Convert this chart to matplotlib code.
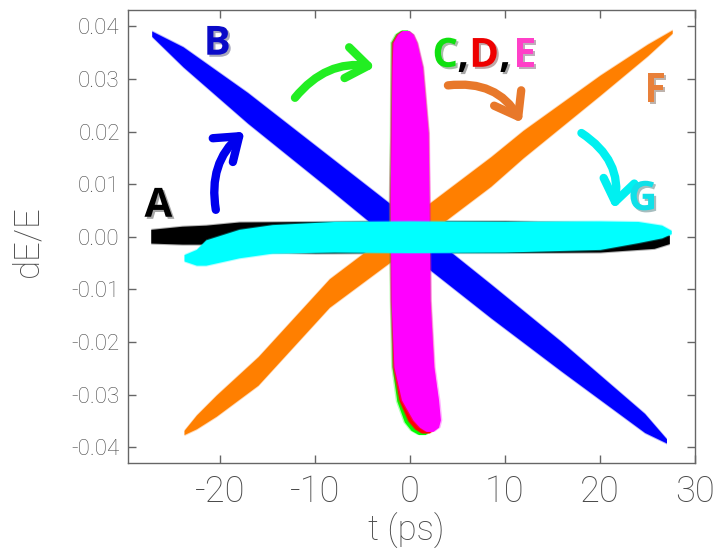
import numpy as np
import matplotlib
matplotlib.use('Agg')
import matplotlib.pyplot as plt
from matplotlib.patches import FancyArrowPatch
import matplotlib.patheffects as pe

# ---------------- data ----------------
# Band A (black): t (ps), centre dE/E, half thickness
A_t    = [-27.3, -24.0, -21.5, -18.0, -10.0, 0.0, 10.0, 20.0, 25.7, 27.3]
A_c    = [0.0001, 0.0003, 0.0004, 0.0000, -0.0001, 0.0, 0.0, -0.0001, -0.0006, -0.0005]
A_h    = [0.0013, 0.0017, 0.0018, 0.0028, 0.0030, 0.0030, 0.0030, 0.0028, 0.0016, 0.0008]

# Band B (blue)
B_t    = [-27.2, -23.9, -17.1, -8.5, -3.1, 0.0, 8.5, 15.9, 24.7, 27.0]
B_c    = [0.0386, 0.0342, 0.0245, 0.0122, 0.0044, 0.0, -0.0122, -0.0227, -0.0354, -0.0388]
B_h    = [0.0005, 0.0019, 0.0029, 0.0031, 0.0033, 0.0033, 0.0032, 0.0028, 0.0018, 0.0004]

# Band F (orange)
F_t    = [-23.8, -22.5, -20.4, -16.0, -8.5, 0.0, 8.5, 11.9, 20.0, 25.0, 27.6]
F_c    = [-0.0372, -0.0352, -0.0321, -0.0255, -0.0107, 0.0008, 0.0124, 0.0176, 0.0288, 0.0355, 0.0390]
F_h    = [0.0004, 0.0013, 0.0020, 0.0027, 0.0027, 0.0028, 0.0028, 0.0026, 0.0019, 0.0011, 0.0003]

# Bands C (green), D (red), E (magenta): vertical, given as dE levels with left/right t
C_dE   = [0.0393, 0.0386, 0.0370, 0.0323, 0.0198, 0.0070, -0.0120, -0.0247, -0.0312, -0.0352, -0.0368, -0.0376]
C_left = [-0.9, -1.5, -2.0, -2.0, -2.05, -2.15, -2.05, -1.9, -1.4, -0.6, 0.1, 0.9]
C_rght = [-0.3, 0.2, 0.6, 1.2, 1.8, 1.9, 2.0, 2.3, 2.6, 2.5, 2.1, 1.6]

D_dE   = [0.0392, 0.0385, 0.0369, 0.0323, 0.0198, 0.0070, -0.0120, -0.0247, -0.0311, -0.0350, -0.0365, -0.0373]
D_left = [-0.85, -1.4, -1.9, -1.95, -2.0, -2.1, -2.0, -1.8, -1.15, -0.2, 0.5, 1.2]
D_rght = [-0.25, 0.25, 0.65, 1.25, 1.85, 1.95, 2.05, 2.4, 2.8, 2.9, 2.6, 2.0]

E_dE   = [0.0392, 0.0385, 0.0369, 0.0323, 0.0198, 0.0070, -0.0120, -0.0247, -0.0310, -0.0348, -0.0362, -0.0370]
E_left = [-0.8, -1.3, -1.8, -1.9, -2.0, -2.1, -2.0, -1.7, -0.9, 0.3, 1.0, 1.7]
E_rght = [-0.2, 0.3, 0.7, 1.3, 1.9, 2.0, 2.1, 2.5, 3.0, 3.2, 3.0, 2.4]

# Band G (cyan)
G_t    = [-23.8, -22.5, -21.5, -18.0, -14.5, -8.0, 0.0, 10.0, 20.0, 24.0, 26.5, 27.5]
G_c    = [-0.0040, -0.0039, -0.0030, -0.0013, -0.0004, 0.0, 0.0, 0.0, 0.0003, 0.0009, 0.0010, 0.0009]
G_h    = [0.0006, 0.0015, 0.0024, 0.0027, 0.0027, 0.0029, 0.0030, 0.0029, 0.0027, 0.0020, 0.0012, 0.0003]

x_ticks = [-20, -10, 0, 10, 20, 30]
x_tick_labels = ['-20', '-10', '0', '10', '20', '30']
y_ticks = [0.04, 0.03, 0.02, 0.01, 0.0, -0.01, -0.02, -0.03, -0.04]
y_tick_labels = ['0.04', '0.03', '0.02', '0.01', '0.00', '-0.01', '-0.02', '-0.03', '-0.04']

# ---------------- figure ----------------
fig = plt.figure(figsize=(7.21, 5.55), dpi=100)
ax = fig.add_axes([0.1775, 0.1658, 0.7864, 0.8162])
ax.set_xlim(-29.7, 30.0)
ax.set_ylim(-0.0430, 0.0431)


def hband(t, c, h, color):
    t = np.asarray(t); c = np.asarray(c); h = np.asarray(h)
    ax.fill_between(t, c - h - 0.0002, c + h + 0.0002, color=color, alpha=0.3, lw=0)
    ax.fill_between(t, c - h, c + h, color=color, lw=0)


def vband(y, left, right, color):
    y = np.asarray(y); left = np.asarray(left); right = np.asarray(right)
    ax.fill_betweenx(y, left - 0.15, right + 0.15, color=color, alpha=0.3, lw=0)
    ax.fill_betweenx(y, left, right, color=color, lw=0)


hband(A_t, A_c, A_h, 'black')
hband(B_t, B_c, B_h, '#0000FF')
hband(F_t, F_c, F_h, '#FF7F00')
vband(C_dE, C_left, C_rght, '#00FF00')
vband(D_dE, D_left, D_rght, '#FF0000')
vband(E_dE, E_left, E_rght, '#FF00FF')
hband(G_t, G_c, G_h, '#00FFFF')

# ---------------- axes styling ----------------
tick_font = dict(family=['Roboto', 'DejaVu Sans'], weight='light')
gray = '#4a4a4a'
for s in ax.spines.values():
    s.set_color('#666666')
    s.set_linewidth(1.0)
ax.set_xticks(x_ticks)
ax.set_xticklabels(x_tick_labels, fontsize=26, color=gray, **tick_font)
ax.set_yticks(y_ticks)
ax.set_yticklabels(y_tick_labels, fontsize=16, color=gray, **tick_font)
ax.tick_params(direction='in', length=6, width=1, color='#666666',
               top=True, right=True)
ax.tick_params(axis='x', pad=8)
ax.tick_params(axis='y', pad=6)
ax.set_xlabel('t (ps)', fontsize=25, color=gray, **tick_font)
ax.set_ylabel('dE/E', fontsize=25, color=gray, **tick_font)
ax.xaxis.set_label_coords(0.49, -0.11)
ax.yaxis.set_label_coords(-0.148, 0.49)

# ---------------- labels ----------------
shadow = [pe.SimplePatchShadow(offset=(1.5, -1.5), alpha=0.35), pe.Normal()]
lab_font = dict(family=['Open Sans', 'DejaVu Sans'], weight='bold', fontsize=29,
                ha='center', va='baseline', path_effects=shadow)
ax.text(-26.5, 0.0038, 'A', color='black', **lab_font)
ax.text(-20.3, 0.0346, 'B', color='#0A0AC8', **lab_font)
ax.text(3.7, 0.0323, 'C', color='#10E010', **lab_font)
ax.text(5.6, 0.0323, ',', color='black', **lab_font)
ax.text(7.8, 0.0323, 'D', color='#EE0000', **lab_font)
ax.text(10.0, 0.0323, ',', color='black', **lab_font)
ax.text(12.1, 0.0323, 'E', color='#FF40C8', **lab_font)
ax.text(25.8, 0.0257, 'F', color='#E8803A', **lab_font)
ax.text(24.5, 0.0051, 'G', color='#10E0E8', **lab_font)

# ---------------- curved arrows ----------------
arrows = [
    ((-20.4, 0.0046), (-17.2, 0.0203), '#0000EE', -0.3),
    ((-12.3, 0.0260), (-3.4, 0.0322), '#22EE22', -0.3),
    ((3.7, 0.0287), (11.9, 0.0212), '#E8782A', -0.35),
    ((17.8, 0.0200), (21.4, 0.0048), '#00F0F0', -0.35),
]
for (p0, p1, col, rad) in arrows:
    ar = FancyArrowPatch(p0, p1, connectionstyle=f'arc3,rad={rad}',
                         arrowstyle='->,head_length=0.55,head_width=0.4',
                         mutation_scale=28, color=col, lw=6,
                         capstyle='round', joinstyle='round')
    ax.add_patch(ar)

fig.savefig('out.png', dpi=100)
